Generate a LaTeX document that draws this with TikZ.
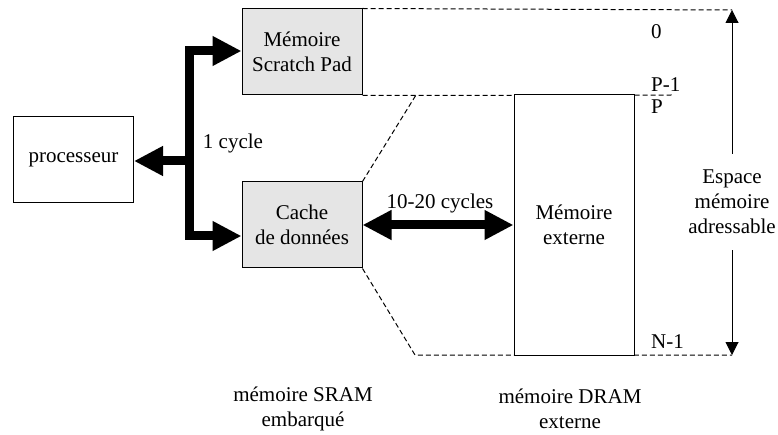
\documentclass[tikz,border=0pt]{standalone}
\usepackage{fontspec}
\setmainfont{Liberation Serif}
\usetikzlibrary{arrows.meta}
\tikzset{btip/.tip={Triangle[length=29pt,width=28pt]},
         stip/.tip={Triangle[length=13pt,width=13pt]}}
\begin{document}
\begin{tikzpicture}[x=1pt,y=-1pt,
  every node/.style={font=\fontsize{21}{25}\selectfont},
  box/.style={draw, line width=1pt, minimum width=120pt, minimum height=86pt, inner sep=0pt, align=center},
  mem/.style={box, fill=black!10},
  bus/.style={line width=9pt, line join=miter},
  dline/.style={dash pattern=on 5pt off 3pt, line width=1pt},
  lbl/.style={align=center, inner sep=0pt}]
\useasboundingbox (0,0) rectangle (778,435);
% coordinates
\coordinate (bt) at (189,51);
\coordinate (bb) at (189,236);
\coordinate (bm) at (189,161);
\coordinate (t0) at (732,10);
\coordinate (pend) at (673,95);
\coordinate (d1) at (416,95);
\coordinate (d2) at (415,355);
\coordinate (b0) at (732,355);
% boxes
\node[box] (proc) at (73.5,160) {processeur};
\node[mem] (sp) at (302,52) {Mémoire\\Scratch Pad};
\node[mem] (cache) at (302,225) {Cache\\de données};
% dashed
\draw[dline] (sp.north east) -- (t0);
\draw[dline] (sp.south east) -- (pend);
\draw[dline] (cache.north east) -- (d1);
\draw[dline] (cache.south east) -- (d2) -- (b0);
\node[box, minimum height=260pt, fill=white] (ext) at (574,225) {Mémoire\\externe};
% buses
\draw[bus, btip-btip] (sp.west |- bt) -- (bt) -- (bb) -- (cache.west |- bb);
\draw[bus, -btip] (bm) -- (proc.east |- bm);
\draw[bus, btip-btip] (cache.east) -- (ext.west);
% labels
\node[lbl] (l1) at (233,143) {1 cycle};
\node[lbl] (l2) at (440,203) {10-20 cycles};
\node[lbl, anchor=west] (n0) at (651,32) {0};
\node[lbl, anchor=west] (np1) at (651,85) {P-1};
\node[lbl, anchor=west] (np) at (651,107) {P};
\node[lbl, anchor=west] (nn1) at (651,342) {N-1};
\node[lbl, inner ysep=16pt] (esp) at (732,202) {Espace\\mémoire\\adressable};
\draw[line width=1pt, -stip] (esp.north) -- (t0);
\draw[line width=1pt, -stip] (esp.south) -- (b0);
\node[lbl] (sram) at (303,409) {mémoire SRAM\\embarqué};
\node[lbl] (dram) at (570,409) {mémoire DRAM\\externe};
\end{tikzpicture}
\end{document}
